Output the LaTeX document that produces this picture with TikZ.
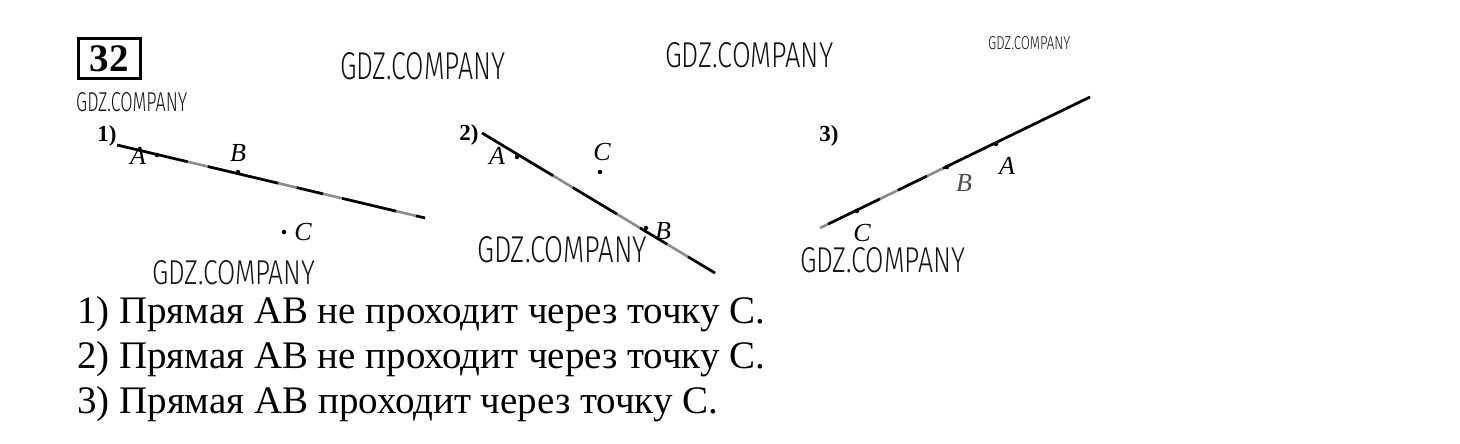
\documentclass[tikz,border=0pt]{standalone}
\usepackage{graphicx}
\usepackage{fontspec}
\setmainfont{Liberation Serif}
\newfontfamily\wmfont{Fira Sans Light}
\usetikzlibrary{calc}
\definecolor{segg}{RGB}{140,140,140}
\definecolor{wmc}{RGB}{20,20,20}
\tikzset{
 wm/.style={inner sep=0, anchor=south west, font=\wmfont, text=wmc},
 lbl/.style={inner sep=0, font=\fontsize{26}{26}\selectfont\itshape},
 num/.style={inner sep=0, font=\fontsize{23}{23}\selectfont\bfseries},
 blk/.style={line width=2.6pt, black},
 gry/.style={line width=2.6pt, segg},
 ans/.style={inner sep=0, anchor=base west, font=\fontsize{39}{39}\selectfont},
 pt/.style={circle, fill=black, inner sep=0, minimum size=4.5pt},
 numbox/.style={draw, line width=3pt, minimum width=62pt, minimum height=40pt, inner sep=0, font=\fontsize{39}{39}\selectfont\bfseries}
}
\newcommand\wmtext[2]{\resizebox{#1pt}{#2pt}{GDZ.COMPANY}}
\newcommand\sqz[2]{\resizebox{#1pt}{\height}{#2}}
\begin{document}
\begin{tikzpicture}[x=1pt,y=-1pt]
\useasboundingbox[fill=white] (0,0) rectangle (1460,444);

% task number
\node[numbox] (box) at (109,59) {32};

% watermarks
\node[wm] (w1) at (76,112) {\wmtext{111}{19}};
\node[wm] (w2) at (340,80) {\wmtext{165}{27}};
\node[wm] (w3) at (665,68) {\wmtext{168}{25}};
\node[wm] (w4) at (988,50) {\wmtext{82}{13}};
\node[wm] (w5) at (152,285) {\wmtext{163}{24}};
\node[wm] (w6) at (477,263) {\wmtext{170}{26}};
\node[wm] (w7) at (800,273) {\wmtext{165}{25}};

% ---------- figure 1 ----------
\coordinate (p1) at (117,145);
\coordinate (q1) at (425,218);
\draw[gry] (p1) -- (q1);
\draw[blk] (p1) -- ($(p1)!0.23!(q1)$);
\draw[blk] ($(p1)!0.295!(q1)$) -- ($(p1)!0.523!(q1)$);
\draw[blk] ($(p1)!0.584!(q1)$) -- ($(p1)!0.669!(q1)$);
\draw[blk] ($(p1)!0.731!(q1)$) -- ($(p1)!0.906!(q1)$);
\draw[blk] ($(p1)!0.971!(q1)$) -- (q1);
\node[num] (n1) at (107,136) {1)};
\node[pt] (A1) at (157,155) {};
\node[lbl] (lA1) at (138,156) {A};
\node[pt] (B1) at (238,172) {};
\node[lbl] (lB1) at (238,153) {B};
\node[pt] (C1) at (284,232) {};
\node[lbl] (lC1) at (303,232) {C};

% ---------- figure 2 ----------
\coordinate (p2) at (482,133);
\coordinate (q2) at (715,273);
\draw[gry] (p2) -- (q2);
\draw[blk] (p2) -- ($(p2)!0.305!(q2)$);
\draw[blk] ($(p2)!0.39!(q2)$) -- ($(p2)!0.579!(q2)$);
\draw[blk] ($(p2)!0.678!(q2)$) -- ($(p2)!0.794!(q2)$);
\draw[blk] ($(p2)!0.884!(q2)$) -- (q2);
\node[num] (n2) at (469,135) {2)};
\node[pt] (A2) at (517,157) {};
\node[lbl] (lA2) at (497,156) {A};
\node[pt] (C2) at (600,172) {};
\node[lbl] (lC2) at (602,152) {C};
\node[pt] (B2) at (646,228) {};
\node[lbl] (lB2) at (663,231) {B};

% ---------- figure 3 ----------
\coordinate (p3) at (820,228);
\coordinate (q3) at (1090,97);
\draw[gry] (p3) -- (q3);
\draw[blk] ($(p3)!0.03!(q3)$) -- ($(p3)!0.222!(q3)$);
\draw[blk] ($(p3)!0.289!(q3)$) -- ($(p3)!0.396!(q3)$);
\draw[blk] ($(p3)!0.456!(q3)$) -- (q3);
\node[num] (n3) at (829,136) {3)};
\node[pt] (A3) at (996,144) {};
\node[lbl] (lA3) at (1007,166) {A};
\node[pt] (B3) at (947,167) {};
\node[lbl,text=black!70] (lB3) at (964,183) {B};
\node[pt] (C3) at (857,211) {};
\node[lbl] (lC3) at (862,233) {C};

% ---------- answers ----------
\node[ans] (t1) at (77,323) {\sqz{688}{1) Прямая АВ не проходит через точку С.}};
\node[ans] (t2) at (77,368) {\sqz{688}{2) Прямая АВ не проходит через точку С.}};
\node[ans] (t3) at (77,413) {\sqz{641}{3) Прямая АВ проходит через точку С.}};
\end{tikzpicture}
\end{document}
